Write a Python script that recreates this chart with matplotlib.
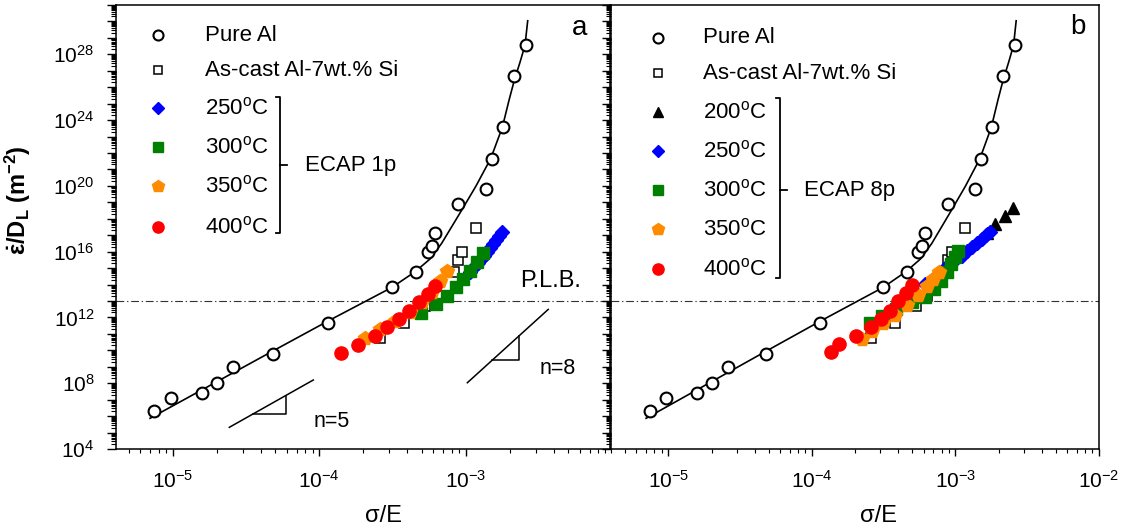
import numpy as np
import matplotlib
matplotlib.use("Agg")
import matplotlib.pyplot as plt
from matplotlib.ticker import FixedLocator, FuncFormatter, LogLocator, NullFormatter

plt.rcParams.update({
    "font.family": "Liberation Sans",
    "mathtext.fontset": "custom",
    "mathtext.rm": "Liberation Sans",
    "mathtext.it": "Liberation Sans:italic",
    "mathtext.bf": "Liberation Sans:bold",
    "axes.linewidth": 1.1,
})

# pure Al (same in both panels)
pure_x = [7.49e-6, 9.69e-6, 1.59e-5, 2.01e-5, 2.59e-5, 4.82e-5, 1.148e-4, 3.14e-4, 4.58e-4,
          5.5e-4, 5.86e-4, 6.17e-4, 8.9e-4, 1.376e-3, 1.504e-3, 1.789e-3, 2.146e-3, 2.593e-3]
pure_y = [2.04e6, 1.2e7, 2.45e7, 1.07e8, 9.3e8, 5.75e9, 4.37e11, 6.76e13, 6.03e14,
          9.77e15, 2.19e16, 1.41e17, 7.76e18, 6.3e19, 4.27e21, 3.63e23, 4.68e26, 3.63e28]
# fitted curve for pure Al
fit_x = [7.0e-6, 4.82e-5, 1.148e-4, 3.14e-4, 4.51e-4, 5.70e-4, 6.85e-4, 9.40e-4, 1.175e-3,
         1.483e-3, 1.778e-3, 1.977e-3, 2.148e-3, 2.350e-3, 2.541e-3, 2.649e-3]
fit_y = [7.35e5, 9.06e9, 6.04e11, 6.76e13, 6.0e14, 3.55e15, 3.2e16, 3.39e18, 9.77e19,
         4.68e21, 3.63e23, 1.66e25, 2.69e26, 3.39e27, 3.63e28, 1.1e30]
# as-cast Al-7wt.% Si
cast_x = [2.60e-4, 3.79e-4, 5.31e-4, 6.37e-4, 8.32e-4, 8.90e-4, 9.44e-4, 1.167e-3]
cast_y = [5.6e10, 4.4e11, 5.2e12, 2.0e13, 5.8e14, 3.1e15, 9.8e15, 2.7e17]

# ECAP 1p
p1_250_x = [1.069e-3, 1.14e-3, 1.204e-3, 1.272e-3, 1.334e-3, 1.398e-3, 1.466e-3, 1.536e-3,
            1.61e-3, 1.688e-3, 1.769e-3]
p1_250_y = [5.8e14, 1.15e15, 2.04e15, 3.55e15, 5.75e15, 9.5e15, 1.66e16, 2.9e16, 5.1e16,
            8.9e16, 1.55e17]
p1_300_x = [4.95e-4, 6.26e-4, 7.40e-4, 8.59e-4, 9.59e-4, 1.069e-3, 1.185e-3, 1.313e-3]
p1_300_y = [1.86e12, 6.5e12, 2.14e13, 7.1e13, 2.14e14, 7.1e14, 2.45e15, 7.9e15]
p1_350_x = [2.05e-4, 2.60e-4, 3.29e-4, 4.17e-4, 5.03e-4, 5.89e-4, 6.68e-4, 7.45e-4]
p1_350_y = [5.6e10, 1.95e11, 6.0e11, 2.14e12, 8.7e12, 3.5e13, 1.62e14, 6.6e14]
p1_400_x = [1.40e-4, 1.85e-4, 2.385e-4, 2.89e-4, 3.515e-4, 4.12e-4, 4.81e-4, 5.51e-4, 6.17e-4]
p1_400_y = [7.1e9, 2.24e10, 7.4e10, 2.45e11, 7.9e11, 2.4e12, 8.7e12, 2.7e13, 8.7e13]

# ECAP 8p
p8_200_x = [1.655e-3, 1.884e-3, 2.228e-3, 2.536e-3]
p8_200_y = [1.35e17, 4.8e17, 1.45e18, 4.8e18]
p8_250_x = [5.22e-4, 6.13e-4, 7.19e-4, 8.45e-4, 9.92e-4, 1.109e-3, 1.202e-3, 1.303e-3,
            1.413e-3, 1.529e-3, 1.631e-3, 1.738e-3]
p8_250_y = [3.5e13, 1.07e14, 2.9e14, 1.0e15, 3.1e15, 5.4e15, 1.1e16, 1.9e16, 3.3e16,
            5.9e16, 1.02e17, 1.66e17]
p8_300_x = [2.54e-4, 3.08e-4, 3.85e-4, 4.98e-4, 6.13e-4, 7.08e-4, 7.93e-4, 8.73e-4,
            9.30e-4, 9.92e-4, 1.041e-3]
p8_300_y = [4.6e11, 1.23e12, 3.2e12, 8.7e12, 1.74e13, 5.4e13, 1.62e14, 5.8e14, 1.78e15,
            4.7e15, 1.1e16]
p8_350_x = [2.234e-4, 2.62e-4, 3.126e-4, 3.79e-4, 4.59e-4, 5.48e-4, 6.33e-4, 7.03e-4, 7.67e-4]
p8_350_y = [5.2e10, 1.48e11, 4.6e11, 1.41e12, 6.0e12, 2.45e13, 8.7e13, 2.14e14, 6.2e14]
p8_400_x = [1.358e-4, 1.545e-4, 2.03e-4, 2.58e-4, 3.03e-4, 3.52e-4, 3.98e-4, 4.54e-4, 4.95e-4]
p8_400_y = [7.6e9, 2.4e10, 7.9e10, 2.63e11, 8.5e11, 2.57e12, 1.0e13, 3.0e13, 9.3e13]

plb = 1.03e13

# guide slopes (panel a)
n5_line_x, n5_line_y = [2.434e-5, 9.11e-5], [2.08e5, 1.57e8]
n5_tri_x, n5_tri_y = [3.53e-5, 5.90e-5, 5.90e-5], [1.34e6, 1.34e6, 1.77e7]
n8_line_x, n8_line_y = [1.026e-3, 3.66e-3], [1.07e8, 3.09e12]
n8_tri_x, n8_tri_y = [1.521e-3, 2.322e-3, 2.322e-3], [2.57e9, 2.57e9, 7.59e10]

STY = {
    "pure": dict(marker="o", ms=8.5, mfc="white", mec="black", mew=1.5, ls="none"),
    "cast": dict(marker="s", ms=7.5, mfc="white", mec="black", mew=1.1, ls="none"),
    "200": dict(marker="^", ms=9, color="black", ls="none"),
    "250": dict(marker="D", ms=7.5, color="#0000FF", ls="none"),
    "300": dict(marker="s", ms=8, color="#008000", ls="none"),
    "350": dict(marker="p", ms=10.5, color="#FF8C00", ls="none"),
    "400": dict(marker="o", ms=9.5, color="#FF0000", ls="none"),
}
LABELS = {"pure": "Pure Al", "cast": "As-cast Al-7wt.% Si",
          "200": r"200$^\mathrm{o}$C", "250": r"250$^\mathrm{o}$C",
          "300": r"300$^\mathrm{o}$C", "350": r"350$^\mathrm{o}$C",
          "400": r"400$^\mathrm{o}$C"}

fig = plt.figure(figsize=(11.31, 5.32), dpi=100)
ax_a = fig.add_axes([116 / 1131, 83 / 532, 494 / 1131, 444 / 532])
ax_b = fig.add_axes([611 / 1131, 83 / 532, 488 / 1131, 444 / 532])


def setup(ax, xlim, ylabels):
    ax.set_xscale("log")
    ax.set_yscale("log")
    ax.set_xlim(*xlim)
    ax.set_ylim(1e4, 1e31)
    ax.xaxis.set_major_locator(FixedLocator([1e-5, 1e-4, 1e-3, 1e-2]))
    ax.xaxis.set_minor_locator(LogLocator(base=10, subs=np.arange(2, 10), numticks=50))
    ax.xaxis.set_major_formatter(FuncFormatter(lambda v, p: r"$10^{%d}$" % round(np.log10(v))))
    ax.xaxis.set_minor_formatter(NullFormatter())
    ax.yaxis.set_major_locator(FixedLocator([10.0 ** k for k in range(4, 32)]))
    ax.yaxis.set_minor_locator(LogLocator(base=10, subs=np.arange(2, 10), numticks=100))
    ax.yaxis.set_minor_formatter(NullFormatter())
    if ylabels:
        ax.yaxis.set_major_formatter(FuncFormatter(
            lambda v, p: r"$10^{%d}$" % round(np.log10(v)) if round(np.log10(v)) % 4 == 0 else ""))
    else:
        ax.yaxis.set_major_formatter(NullFormatter())
    ax.tick_params(axis="x", which="major", length=5, width=1, pad=10, labelsize=15)
    ax.tick_params(axis="x", which="minor", length=3, width=0.8)
    ax.tick_params(axis="y", which="major", length=6.5, width=1, pad=9, labelsize=15)
    ax.tick_params(axis="y", which="minor", length=3.5, width=0.8)
    ax.axhline(plb, color="#333333", lw=0.8, ls=(0, (7, 2.5, 1.2, 2.5)), zorder=1)
    ax.plot(fit_x, fit_y, color="black", lw=1.2, zorder=2)
    ax.set_xlabel("σ/E", fontsize=17)


def key(ax, names, mx, tx, rows, bx, btop, bbot, bmid, ecap):
    for name, ry in zip(names, rows):
        st = dict(STY[name])
        st["ms"] = st["ms"] * 0.85
        ax.plot([mx], [ry], transform=ax.transAxes, clip_on=False, **st)
        ax.text(tx, ry, LABELS[name], transform=ax.transAxes, fontsize=16, va="center", ha="left")
    ax.plot([bx - 0.008, bx, bx, bx - 0.008], [btop, btop, bbot, bbot], transform=ax.transAxes,
            color="black", lw=1.3)
    ax.plot([bx, bx + 0.015], [bmid, bmid], transform=ax.transAxes, color="black", lw=1.3)
    ax.text(bx + 0.05, bmid, ecap, transform=ax.transAxes, fontsize=16, va="center", ha="left")


# panel a
setup(ax_a, (4.10e-6, 9.66e-3), True)
ax_a.plot(cast_x, cast_y, zorder=3, **STY["cast"])
ax_a.plot(p1_250_x, p1_250_y, zorder=4, **STY["250"])
ax_a.plot(p1_300_x, p1_300_y, zorder=5, **STY["300"])
ax_a.plot(p1_350_x, p1_350_y, zorder=6, **STY["350"])
ax_a.plot(p1_400_x, p1_400_y, zorder=7, **STY["400"])
ax_a.plot(pure_x, pure_y, zorder=8, **STY["pure"])
ax_a.plot(n5_line_x, n5_line_y, color="black", lw=1.1)
ax_a.plot(n5_tri_x, n5_tri_y, color="black", lw=1.1)
ax_a.plot(n8_line_x, n8_line_y, color="black", lw=1.1)
ax_a.plot(n8_tri_x, n8_tri_y, color="black", lw=1.1)
ax_a.text(0.437, 0.063, "n=5", transform=ax_a.transAxes, fontsize=15.5, ha="center", va="center")
ax_a.text(0.895, 0.182, "n=8", transform=ax_a.transAxes, fontsize=15.5, ha="center", va="center")
ax_a.text(0.879, 0.378, "P.L.B.", transform=ax_a.transAxes, fontsize=17, ha="center", va="center")
ax_a.text(0.939, 0.948, "a", transform=ax_a.transAxes, fontsize=20, ha="center", va="center")
ax_a.set_ylabel(r"$\mathbf{\dot{\varepsilon}/D_L\ (m^{-2})}$", fontsize=17)
ax_a.yaxis.set_label_coords(-0.168, 0.56)
ax_a.xaxis.set_label_coords(0.5425, -0.125)
key(ax_a, ["pure", "cast", "250", "300", "350", "400"], 0.085, 0.180,
    [0.9324, 0.8536, 0.7680, 0.6802, 0.5923, 0.5000],
    0.332, 0.7928, 0.4865, 0.6396, "ECAP 1p")

# panel b
setup(ax_b, (3.99e-6, 1.0e-2), False)
ax_b.plot(cast_x, cast_y, zorder=3, **STY["cast"])
ax_b.plot(p8_200_x, p8_200_y, zorder=4, **STY["200"])
ax_b.plot(p8_250_x, p8_250_y, zorder=5, **STY["250"])
ax_b.plot(p8_300_x, p8_300_y, zorder=6, **STY["300"])
ax_b.plot(p8_350_x, p8_350_y, zorder=7, **STY["350"])
ax_b.plot(p8_400_x, p8_400_y, zorder=8, **STY["400"])
ax_b.plot(pure_x, pure_y, zorder=9, **STY["pure"])
ax_b.text(0.957, 0.950, "b", transform=ax_b.transAxes, fontsize=20, ha="center", va="center")
ax_b.xaxis.set_label_coords(0.549, -0.125)
key(ax_b, ["pure", "cast", "200", "250", "300", "350", "400"], 0.0963, 0.1885,
    [0.9257, 0.8468, 0.7590, 0.6712, 0.5833, 0.4955, 0.4054],
    0.3463, 0.7905, 0.3851, 0.5833, "ECAP 8p")

fig.savefig("out.png", dpi=100)
